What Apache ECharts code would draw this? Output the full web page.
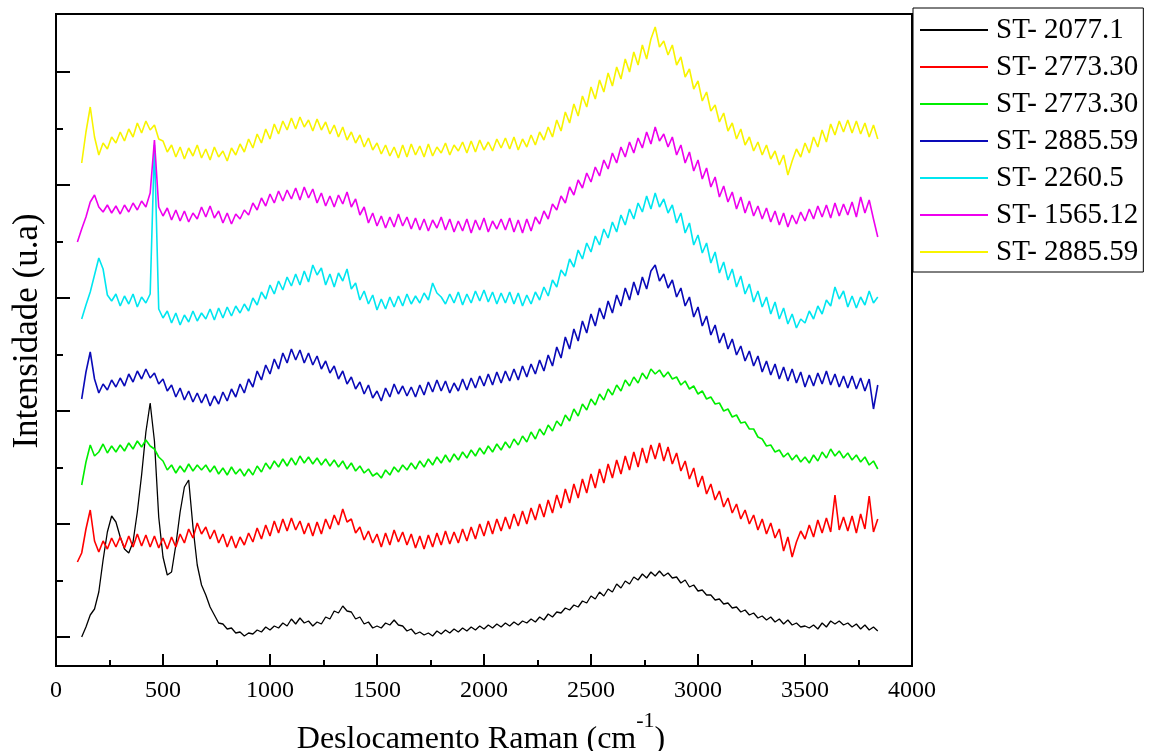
<!DOCTYPE html>
<html>
<head>
<meta charset="utf-8">
<script src="https://cdn.jsdelivr.net/npm/echarts@6/dist/echarts.min.js"></script>
<style>
  html, body { margin: 0; padding: 0; background: #fff; }
  #chart { width: 1149px; height: 751px; }
</style>
</head>
<body>
<div id="chart"></div>
<script>
// Raman shift sampling grid (cm^-1): 100 .. 3840 every 20
const shiftStart = 100, shiftStep = 20, shiftCount = 188;
const wavenumbers = [];
for (let i = 0; i < shiftCount; i++) wavenumbers.push(shiftStart + i * shiftStep);

const seriesNames = ['ST- 2077.1', 'ST- 2773.30', 'ST- 2773.30', 'ST- 2885.59', 'ST- 2260.5', 'ST- 1565.12', 'ST- 2885.59'];
const seriesColors = ['#000000', '#ff0000', '#00ee00', '#0a0ab8', '#00e6f0', '#ee00ee', '#f8f400'];

// Intensity (u.a), stacked spectra as plotted
const st2077 = [
  null, 0, 10, 22, 28, 45, 77, 105, 121, 115,
  100, 88, 84, 95, 125, 162, 205, 234, 196, 120,
  80, 62, 65, 92, 125, 150, 157, 110, 72, 52,
  42, 30, 22, 14, 13, 8, 9, 4, 5, 1,
  4, 3, 7, 5, 10, 7, 11, 9, 14, 11,
  18, 13, 19, 14, 16, 11, 15, 13, 20, 18,
  26, 24, 31, 26, 25, 18, 20, 13, 15, 9,
  11, 9, 14, 12, 17, 12, 11, 6, 8, 3,
  5, 2, 4, 1, 6, 3, 7, 4, 8, 5,
  9, 6, 10, 7, 11, 8, 12, 9, 13, 10,
  14, 11, 15, 12, 16, 14, 18, 15, 20, 17,
  23, 20, 25, 24, 29, 27, 32, 30, 36, 34,
  41, 38, 45, 41, 48, 45, 53, 49, 56, 53,
  60, 57, 63, 59, 65, 61, 66, 61, 64, 59,
  60, 54, 57, 50, 52, 46, 47, 42, 42, 37,
  38, 33, 34, 29, 30, 25, 27, 22, 24, 19,
  21, 17, 20, 15, 18, 13, 17, 12, 14, 10,
  11, 9, 12, 8, 14, 10, 16, 13, 16, 12,
  14, 10, 13, 8, 12, 7, 10, 6
];
const st2773a = [
  75, 84, 108, 127, 96, 85, 96, 88, 99, 90,
  100, 89, 101, 90, 103, 91, 102, 90, 101, 89,
  99, 88, 100, 90, 103, 94, 108, 99, 114, 103,
  110, 98, 107, 94, 103, 90, 101, 89, 100, 92,
  104, 95, 109, 98, 112, 101, 116, 104, 118, 106,
  119, 107, 116, 103, 114, 101, 115, 103, 118, 108,
  122, 112, 128, 115, 118, 104, 110, 97, 106, 94,
  103, 90, 104, 92, 107, 95, 105, 92, 103, 89,
  101, 88, 102, 90, 104, 92, 106, 93, 105, 94,
  108, 96, 110, 98, 113, 101, 116, 103, 118, 106,
  120, 108, 123, 111, 126, 113, 129, 117, 133, 120,
  137, 124, 142, 129, 148, 134, 153, 139, 158, 144,
  163, 149, 168, 154, 173, 159, 177, 163, 181, 167,
  185, 170, 189, 174, 192, 178, 194, 176, 190, 173,
  184, 166, 176, 158, 169, 150, 161, 143, 153, 137,
  146, 130, 139, 124, 133, 118, 127, 113, 122, 107,
  118, 103, 114, 99, 108, 86, 100, 80, 95, 106,
  98, 112, 100, 117, 104, 119, 105, 142, 107, 120,
  106, 121, 104, 123, 108, 141, 105, 118
];
const st2773b = [
  null, 152, 175, 192, 181, 185, 193, 184, 191, 185,
  192, 186, 194, 188, 196, 190, 197, 191, 188, 180,
  176, 167, 172, 164, 171, 165, 173, 166, 172, 167,
  172, 165, 171, 163, 169, 162, 170, 163, 168, 161,
  168, 162, 171, 165, 174, 168, 176, 170, 178, 171,
  179, 172, 181, 174, 180, 173, 179, 172, 178, 171,
  177, 170, 176, 168, 174, 166, 171, 164, 168, 161,
  164, 159, 167, 162, 170, 165, 172, 167, 174, 168,
  176, 170, 178, 172, 180, 174, 182, 175, 183, 177,
  185, 179, 187, 181, 189, 183, 191, 185, 193, 187,
  195, 189, 198, 192, 201, 195, 205, 198, 208, 202,
  212, 206, 216, 211, 222, 216, 228, 221, 233, 227,
  238, 232, 243, 237, 248, 242, 252, 246, 257, 251,
  260, 254, 264, 258, 268, 263, 267, 260, 265, 258,
  260, 252, 256, 248, 251, 243, 246, 238, 240, 233,
  234, 226, 228, 220, 222, 214, 215, 208, 208, 200,
  198, 191, 192, 185, 187, 180, 184, 177, 182, 175,
  180, 174, 182, 176, 185, 179, 188, 181, 186, 179,
  184, 177, 182, 175, 180, 172, 176, 168
];
const st2885a = [
  null, 238, 265, 285, 258, 244, 253, 247, 257, 250,
  259, 251, 263, 255, 266, 258, 268, 259, 264, 253,
  258, 246, 252, 240, 249, 237, 246, 235, 244, 234,
  243, 231, 241, 233, 245, 236, 248, 240, 253, 244,
  258, 250, 266, 257, 272, 263, 278, 268, 284, 274,
  288, 277, 287, 274, 284, 272, 281, 268, 276, 264,
  271, 258, 266, 253, 260, 248, 255, 243, 252, 239,
  246, 236, 249, 240, 253, 243, 251, 241, 250, 240,
  252, 242, 255, 245, 257, 246, 256, 244, 254, 246,
  258, 247, 259, 249, 261, 251, 263, 252, 265, 254,
  266, 256, 268, 257, 271, 260, 273, 263, 277, 266,
  282, 271, 290, 279, 300, 288, 308, 296, 316, 304,
  323, 311, 329, 318, 336, 324, 342, 331, 349, 337,
  355, 342, 360, 348, 366, 372, 356, 363, 349, 357,
  340, 349, 331, 340, 320, 330, 311, 321, 302, 312,
  294, 304, 288, 298, 282, 291, 276, 286, 271, 281,
  265, 276, 262, 273, 258, 270, 256, 268, 254, 265,
  250, 262, 251, 264, 253, 266, 252, 263, 250, 261,
  249, 261, 248, 259, 246, 258, 228, 252
];
const st2260 = [
  null, 318, 332, 345, 362, 379, 368, 342, 336, 343,
  331, 341, 333, 343, 330, 340, 334, 343, 492, 328,
  319, 326, 314, 324, 312, 322, 315, 326, 316, 324,
  318, 328, 317, 329, 319, 330, 321, 331, 324, 333,
  326, 339, 332, 345, 338, 352, 343, 356, 347, 360,
  351, 363, 352, 366, 355, 372, 362, 369, 352, 363,
  350, 364, 356, 368, 348, 354, 337, 346, 333, 342,
  327, 338, 328, 340, 330, 341, 331, 343, 333, 341,
  334, 344, 337, 354, 344, 340, 333, 343, 334, 345,
  332, 343, 334, 346, 336, 347, 335, 345, 333, 344,
  334, 345, 333, 344, 331, 342, 333, 345, 337, 350,
  341, 357, 350, 367, 361, 378, 370, 387, 378, 394,
  385, 401, 392, 408, 399, 415, 405, 422, 412, 428,
  418, 434, 425, 441, 428, 444, 430, 438, 424, 432,
  414, 424, 404, 414, 392, 402, 384, 394, 374, 385,
  364, 375, 357, 368, 350, 361, 343, 353, 335, 346,
  330, 340, 323, 335, 318, 329, 313, 323, 309, 318,
  314, 326, 318, 331, 323, 337, 331, 350, 338, 346,
  330, 341, 329, 340, 332, 346, 334, 340
];
const st1565 = [
  395, 408, 420, 435, 442, 430, 425, 432, 424, 431,
  423, 432, 425, 434, 427, 436, 430, 444, 497, 430,
  421, 429, 417, 427, 416, 426, 415, 424, 418, 430,
  420, 431, 419, 426, 414, 424, 413, 423, 418, 427,
  422, 434, 427, 439, 431, 443, 434, 446, 436, 447,
  438, 449, 437, 450, 439, 448, 434, 444, 431, 441,
  430, 442, 433, 445, 430, 438, 422, 430, 414, 424,
  411, 421, 409, 420, 410, 423, 411, 420, 408, 419,
  407, 418, 406, 417, 409, 420, 407, 418, 405, 416,
  406, 418, 404, 417, 407, 419, 405, 416, 408, 418,
  407, 419, 405, 417, 404, 418, 406, 420, 413, 426,
  418, 433, 427, 441, 434, 450, 442, 457, 449, 464,
  455, 470, 461, 477, 468, 484, 474, 490, 480, 495,
  484, 499, 489, 505, 493, 510, 496, 503, 490, 500,
  482, 492, 474, 485, 466, 477, 458, 469, 450, 460,
  440, 451, 435, 445, 428, 440, 424, 436, 421, 431,
  418, 429, 415, 426, 412, 424, 410, 422, 413, 425,
  416, 428, 418, 431, 420, 432, 419, 434, 421, 433,
  422, 435, 420, 440, 424, 437, 418, 400
];
const st2885b = [
  null, 474, 505, 530, 500, 482, 494, 488, 500, 494,
  505, 496, 508, 500, 514, 504, 516, 507, 512, 498,
  496, 485, 492, 480, 490, 478, 489, 481, 492, 479,
  488, 477, 490, 480, 486, 476, 489, 482, 493, 485,
  498, 489, 503, 494, 508, 498, 513, 503, 516, 507,
  519, 508, 520, 510, 517, 506, 518, 507, 515, 503,
  512, 500, 510, 497, 505, 494, 502, 490, 499, 487,
  494, 483, 492, 481, 490, 479, 492, 480, 493, 482,
  491, 480, 493, 481, 490, 484, 494, 482, 492, 486,
  495, 484, 496, 485, 497, 487, 495, 486, 498, 489,
  499, 488, 500, 487, 498, 490, 502, 492, 505, 497,
  510, 500, 517, 506, 525, 514, 533, 521, 541, 530,
  550, 538, 557, 545, 564, 551, 570, 558, 578, 565,
  585, 572, 592, 578, 598, 610, 590, 596, 582, 592,
  572, 580, 560, 568, 548, 556, 536, 545, 526, 532,
  515, 524, 506, 514, 498, 508, 492, 500, 486, 495,
  482, 492, 478, 486, 472, 482, 462, 476, 488, 480,
  494, 484, 500, 490, 507, 495, 513, 502, 516, 505,
  517, 504, 516, 503, 514, 500, 512, 498
];

const xTickLabels = ['0', '500', '1000', '1500', '2000', '2500', '3000', '3500', '4000'];
const yMajorTicks = [0, 113, 226, 339, 452, 565];
const yMinorTicks = [56.5, 169.5, 282.5, 395.5, 508.5];

const allSeries = [st2077, st2773a, st2773b, st2885a, st2260, st1565, st2885b];
const FONT = 'Liberation Serif';

const chart = echarts.init(document.getElementById('chart'), null, { renderer: 'canvas' });

const option = {
  animation: false,
  backgroundColor: '#ffffff',
  grid: { left: 56, right: 237, top: 14, bottom: 85, show: true, borderColor: '#000', borderWidth: 2, backgroundColor: 'transparent' },
  xAxis: {
    type: 'value', min: 0, max: 4000, interval: 500,
    axisLine: { show: true, onZero: false, lineStyle: { color: '#000', width: 2 } },
    axisTick: { show: true, inside: true, length: 12, lineStyle: { color: '#000', width: 2 } },
    minorTick: { show: true, splitNumber: 2, length: 6, lineStyle: { color: '#000', width: 2 } },
    splitLine: { show: false }, minorSplitLine: { show: false },
    axisLabel: {
      color: '#000', fontFamily: FONT, fontSize: 24, margin: 13,
      formatter: function (v) { const i = Math.round(v / 500); return xTickLabels[i] !== undefined ? xTickLabels[i] : ''; }
    }
  },
  yAxis: [
    {
      type: 'value', min: -29, max: 623,
      axisLine: { show: true, onZero: false, lineStyle: { color: '#000', width: 2 } },
      axisTick: { show: true, inside: true, length: 14, customValues: yMajorTicks, lineStyle: { color: '#000', width: 2 } },
      axisLabel: { show: false }, splitLine: { show: false }
    },
    {
      type: 'value', min: -29, max: 623, position: 'left',
      axisLine: { show: false },
      axisTick: { show: true, inside: true, length: 7, customValues: yMinorTicks, lineStyle: { color: '#000', width: 2 } },
      axisLabel: { show: false }, splitLine: { show: false }
    }
  ],
  legend: {
    orient: 'vertical', left: 913, top: 8,
    padding: [7, 5, 5, 7],
    itemWidth: 68, itemHeight: 2, itemGap: 7, icon: 'rect',
    borderColor: '#000', borderWidth: 1,
    selectedMode: false,
    textStyle: { fontFamily: FONT, fontSize: 29, lineHeight: 30, color: '#000', padding: [0, 0, 0, 3] },
    data: seriesNames.map(function (n, i) { return { name: n + '\u200B'.repeat(i) }; })
  },
  graphic: [
    {
      type: 'text', x: 481, y: 710,
      style: {
        text: '{a|Deslocamento Raman (cm}{s|-1}{a|)}',
        align: 'center', verticalAlign: 'top',
        rich: {
          a: { fontFamily: FONT, fontSize: 32, lineHeight: 60, fill: '#000' },
          s: { fontFamily: FONT, fontSize: 22, lineHeight: 22, verticalAlign: 'top', fill: '#000' }
        }
      }
    },
    {
      type: 'text', x: 28, y: 331, rotation: Math.PI / 2,
      style: { text: 'Intensidade (u.a)', font: '35px "Liberation Serif"', fill: '#000', align: 'center', verticalAlign: 'middle' }
    }
  ],
  series: allSeries.map(function (vals, i) {
    return {
      name: seriesNames[i] + '\u200B'.repeat(i),
      type: 'line',
      showSymbol: false, symbol: 'none',
      color: seriesColors[i],
      lineStyle: { color: seriesColors[i], width: i === 0 ? 1.3 : 1.6 },
      data: wavenumbers.map(function (x, j) { return [x, vals[j] === null ? null : vals[j]]; }),
      connectNulls: false,
      z: 2 + i
    };
  })
};
chart.setOption(option);
</script>
</body>
</html>
